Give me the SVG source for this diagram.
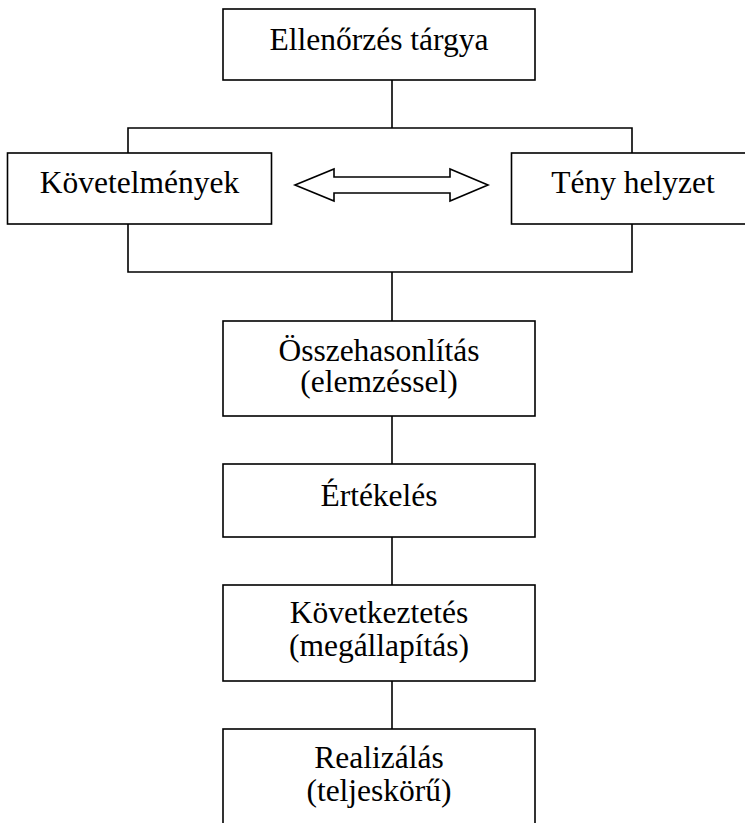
<svg xmlns="http://www.w3.org/2000/svg" width="745" height="823" viewBox="0 0 745 823">
  <style>
    .box { fill: #ffffff; stroke: #000000; stroke-width: 1.6; }
    .wire { fill: none; stroke: #000000; stroke-width: 1.6; }
    .lbl { font-family: "Liberation Serif", "Times New Roman", serif; font-size: 31.5px; fill: #000000; text-anchor: middle; }
  </style>
  <rect width="745" height="823" fill="#ffffff"/>

  <!-- connectors -->
  <g id="connectors">
    <path class="wire" d="M392 80 V128 M128 153 V128 H632 V153"/>
    <path class="wire" d="M128 224 V272 H632 V224 M392 272 V321"/>
    <path class="wire" d="M392 416 V464"/>
    <path class="wire" d="M392 537 V585"/>
    <path class="wire" d="M392 681 V729"/>
    <polygon id="double-arrow" class="wire" points="295,185 334,169 334,177 450,177 450,169 488,185 450,201 450,193 334,193 334,201"/>
  </g>

  <g id="subject">
    <rect class="box" x="223" y="9" width="312" height="71"/>
    <text class="lbl" x="379" y="50">Ellenőrzés tárgya</text>
  </g>

  <g id="requirements">
    <rect class="box" x="7.5" y="153" width="264" height="71"/>
    <text class="lbl" x="139.5" y="193">Követelmények</text>
  </g>

  <g id="actual-state">
    <rect class="box" x="511.5" y="153" width="250" height="71"/>
    <text class="lbl" x="633" y="193">Tény helyzet</text>
  </g>

  <g id="comparison">
    <rect class="box" x="223" y="321" width="312" height="95"/>
    <text class="lbl" x="379" y="360.5">Összehasonlítás</text>
    <text class="lbl" x="379" y="392">(elemzéssel)</text>
  </g>

  <g id="evaluation">
    <rect class="box" x="223" y="464" width="312" height="73"/>
    <text class="lbl" x="379" y="506">Értékelés</text>
  </g>

  <g id="conclusion">
    <rect class="box" x="223" y="585" width="312" height="96"/>
    <text class="lbl" x="379" y="623">Következtetés</text>
    <text class="lbl" x="379" y="655.5">(megállapítás)</text>
  </g>

  <g id="realization">
    <rect class="box" x="223" y="729" width="312" height="110"/>
    <text class="lbl" x="379" y="768">Realizálás</text>
    <text class="lbl" x="379" y="801">(teljeskörű)</text>
  </g>
</svg>
